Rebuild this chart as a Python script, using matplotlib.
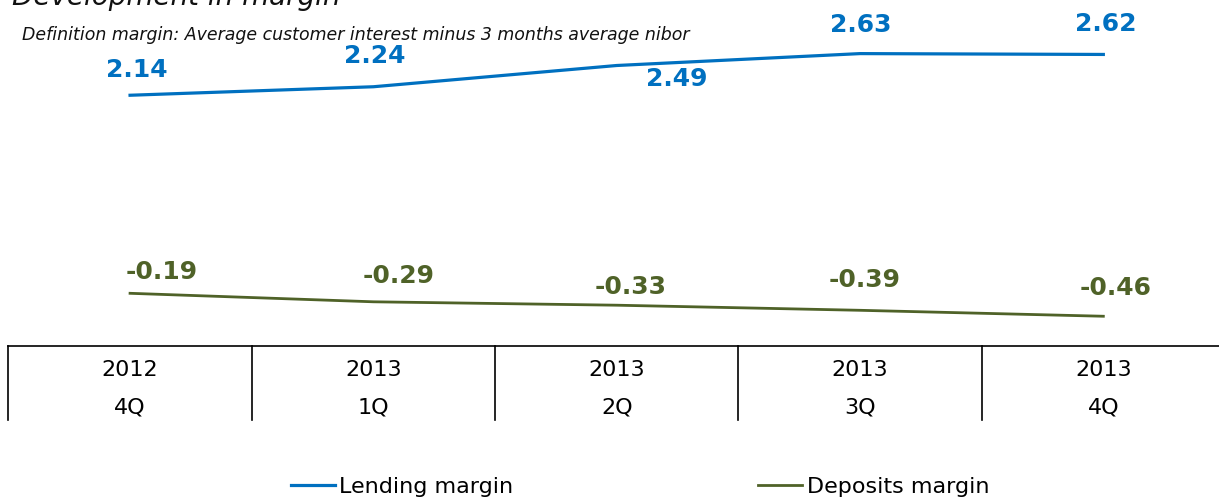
import matplotlib.pyplot as plt
import matplotlib.transforms as mtransforms

# Data
years = ["2012", "2013", "2013", "2013", "2013"]
quarters = ["4Q", "1Q", "2Q", "3Q", "4Q"]
lending = [2.14, 2.24, 2.49, 2.63, 2.62]
deposits = [-0.19, -0.29, -0.33, -0.39, -0.46]

blue = "#0070C0"
green = "#4F6228"

# label offsets in pixels (dx, dy), dy positive = up
lend_off = [(7, 25), (1, 31), (60, -13), (1, 29), (2, 30)]
dep_off = [(32, 21), (25, 26), (14, 18), (5, 30), (12, 28)]

fig = plt.figure(figsize=(12.19, 5), dpi=100)
ax = fig.add_axes([8.4 / 1219, 1 - 346 / 500, 1216.6 / 1219, 316 / 500])

x = list(range(len(lending)))
ax.plot(x, lending, color=blue, lw=2.3, label="Lending margin")
ax.plot(x, deposits, color=green, lw=2.0, label="Deposits margin")

ax.set_xlim(-0.5, 4.5)
ax.set_ylim(-0.81, -0.81 + 316 / 85)

for i, v in enumerate(lending):
    dx, dy = lend_off[i]
    ax.annotate(f"{v:.2f}", (i, v), xytext=(dx * 0.72, dy * 0.72), textcoords="offset points",
                ha="center", va="center", color=blue, fontsize=18, fontweight="bold")
for i, v in enumerate(deposits):
    dx, dy = dep_off[i]
    ax.annotate(f"{v:.2f}", (i, v), xytext=(dx * 0.72, dy * 0.72), textcoords="offset points",
                ha="center", va="center", color=green, fontsize=18, fontweight="bold")

# axis + category table
for s in ["top", "right", "left"]:
    ax.spines[s].set_visible(False)
ax.spines["bottom"].set_linewidth(1.2)
ax.set_xticks([])
ax.set_yticks([])
trans = mtransforms.blended_transform_factory(ax.transData, ax.transAxes)
for b in [-0.5, 0.5, 1.5, 2.5, 3.5]:
    ax.plot([b, b], [0, -74 / 316], color="black", lw=1.2, transform=trans, clip_on=False)
for i in x:
    ax.text(i, -24 / 316, years[i], transform=trans, ha="center", va="center", fontsize=16)
    ax.text(i, -62 / 316, quarters[i], transform=trans, ha="center", va="center", fontsize=16)

# title and subtitle
fig.text(12 / 1219, 1 - 5 / 500, "Development in margin", fontsize=20, style="italic",
         va="baseline", ha="left", color="#111111")
fig.text(22 / 1219, 1 - 35 / 500, "Definition margin: Average customer interest minus 3 months average nibor",
         fontsize=12.5, style="italic", va="center", ha="left", color="#111111")

fig.legend(loc="center", bbox_to_anchor=(640 / 1219, 1 - 487 / 500), ncol=2, frameon=False,
           fontsize=16, handlelength=2.0, handletextpad=0.2, columnspacing=11)

fig.savefig("out.png", dpi=100)
